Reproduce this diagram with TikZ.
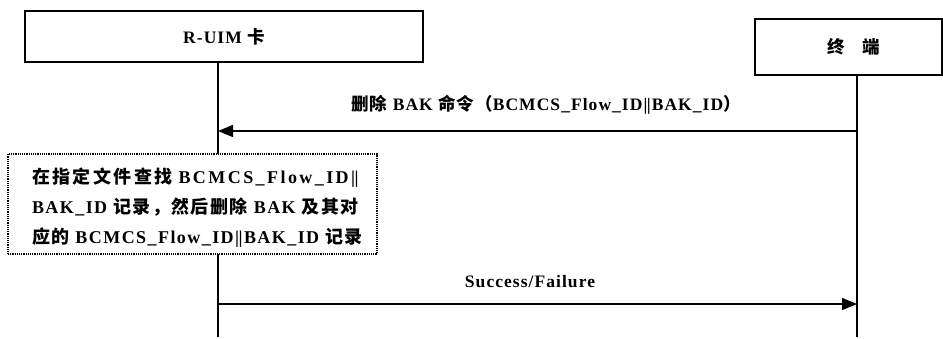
\documentclass[tikz,border=0pt]{standalone}
\usepackage{fontspec}
\setmainfont{Liberation Serif}
\newfontfamily\cjk{Noto Sans CJK SC}
\usetikzlibrary{arrows.meta}
\def\myls{6}
\newcommand{\zh}[1]{{\cjk\addfontfeatures{LetterSpace=\myls}#1}}
\newcommand{\ls}{\addfontfeatures{LetterSpace=\myls}}
\newcommand{\dbar}{\textbar\kern-0.5pt\textbar}
\hbadness=10000 \hfuzz=100pt
\begin{document}
\begin{tikzpicture}[x=1pt,y=-1pt,
  actor/.style={draw,line width=1.3pt,inner sep=0pt,font=\bfseries\fontsize{17.5}{20}\selectfont},
  note/.style={draw,densely dotted,line width=1.2pt,fill=white,inner xsep=12pt,inner ysep=0pt,
    align=left,text width=345pt,minimum height=100pt,font=\bfseries\fontsize{18}{30}\selectfont},
  life/.style={line width=1.7pt},
  msg/.style={line width=1.4pt,-{Triangle[length=15pt,width=12pt]}},
  lbl/.style={inner sep=0pt,font=\bfseries\fontsize{17.5}{20}\selectfont}]
\useasboundingbox (0,0) rectangle (943,338);
% actors
\node[actor,minimum width=398pt,minimum height=51pt] (uim) at (224,36.5) {\ls R-UIM \zh{卡}};
\node[actor,minimum width=187pt,minimum height=56pt] (term) at (848.5,47) {\hspace*{10pt}\zh{终\quad 端}};
% lifelines
\coordinate (uimEnd) at (218,337);
\coordinate (termEnd) at (857,337);
\draw[life] (uim.south -| uimEnd) -- (uimEnd);
\draw[life] (term.south -| termEnd) -- (termEnd);
% message 1
\coordinate (m1a) at (857,131);
\coordinate (m1b) at (218,131);
\draw[msg] (m1a) -- (m1b);
\node[lbl] (l1) at (546,105) {\ls\zh{删除} BAK \zh{命令（}BCMCS\_Flow\_ID\dbar BAK\_ID\zh{）}};
% processing note
\node[note] (proc) at (192.5,204) {\hspace*{12pt}\mbox{\rule{0pt}{22pt}\def\myls{13.5}\ls\zh{在指定文件查找} BCMCS\_Flow\_ID\dbar}\\
\hspace*{12pt}\mbox{\def\myls{8}\ls BAK\_ID \zh{记录，然后删除} BAK \zh{及其对}}\\
\hspace*{12pt}\mbox{\def\myls{8}\ls\zh{应的} BCMCS\_Flow\_ID\dbar BAK\_ID \zh{记录}}};
% message 2
\coordinate (m2a) at (218,304);
\coordinate (m2b) at (857,304);
\draw[msg] (m2a) -- (m2b);
\node[lbl] (l2) at (530,282) {\ls Success/Failure};
\end{tikzpicture}
\end{document}
